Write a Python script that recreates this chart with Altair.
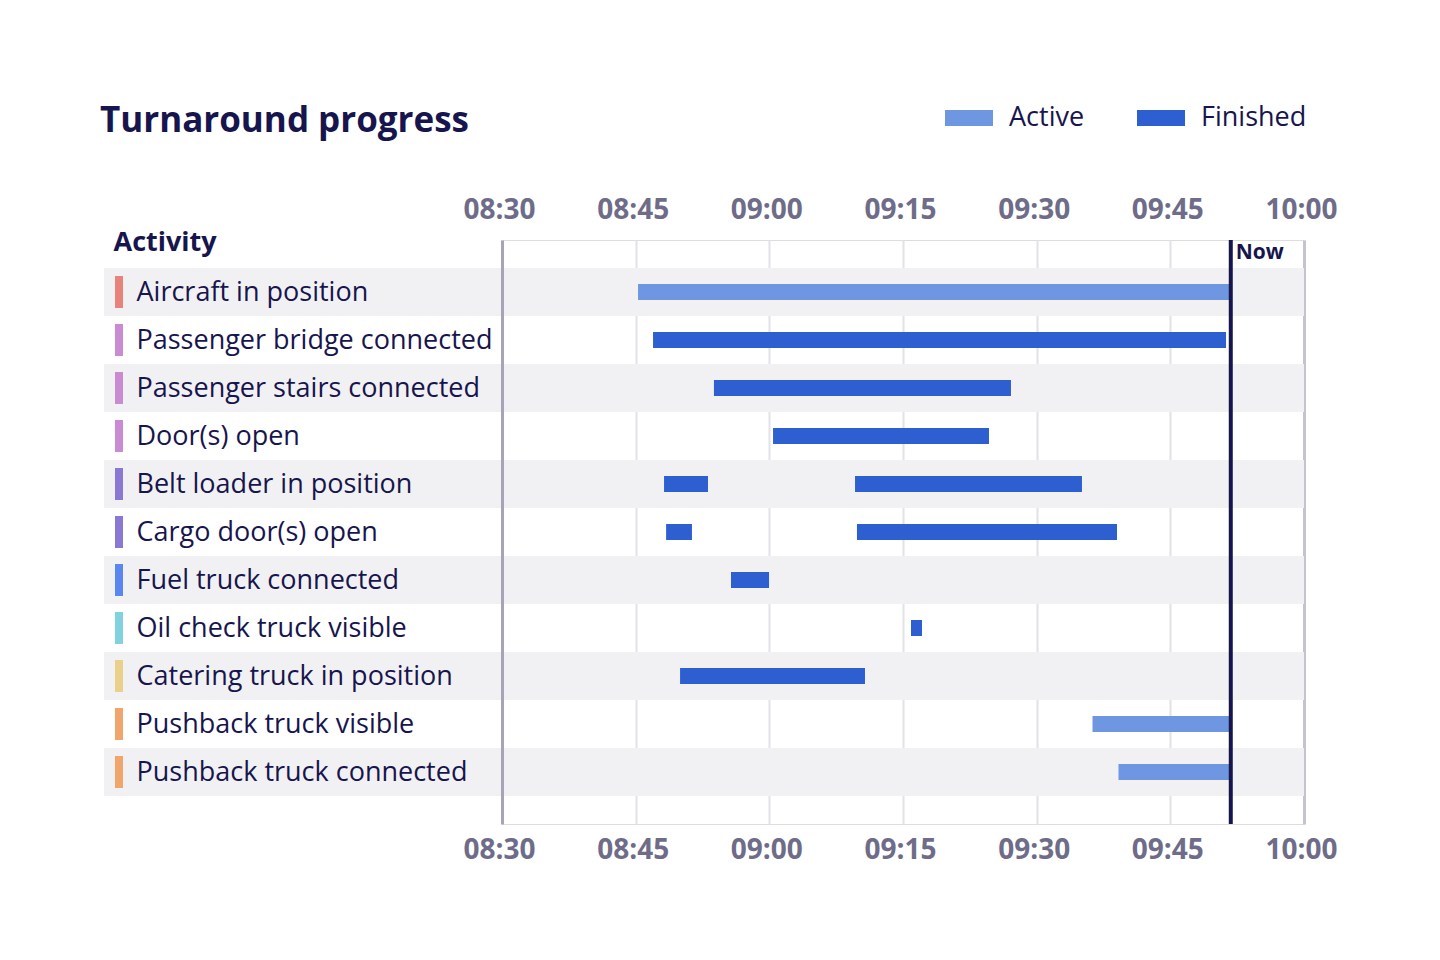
import altair as alt
import pandas as pd

# ---------------- data ----------------
activities = [
    "Aircraft in position",
    "Passenger bridge connected",
    "Passenger stairs connected",
    "Door(s) open",
    "Belt loader in position",
    "Cargo door(s) open",
    "Fuel truck connected",
    "Oil check truck visible",
    "Catering truck in position",
    "Pushback truck visible",
    "Pushback truck connected",
]

# one entry per drawn bar (an activity may have several segments)
seg_activity = [
    "Aircraft in position",
    "Passenger bridge connected",
    "Passenger stairs connected",
    "Door(s) open",
    "Belt loader in position",
    "Belt loader in position",
    "Cargo door(s) open",
    "Cargo door(s) open",
    "Fuel truck connected",
    "Oil check truck visible",
    "Catering truck in position",
    "Pushback truck visible",
    "Pushback truck connected",
]
seg_start = [
    "08:45:16", "08:46:57", "08:53:47", "09:00:25", "08:48:11", "09:09:37",
    "08:48:25", "09:09:50", "08:55:42", "09:15:54", "08:49:59", "09:36:16",
    "09:39:11",
]
seg_end = [
    "09:51:47", "09:51:15", "09:27:07", "09:24:39", "08:53:07", "09:35:05",
    "08:51:19", "09:39:01", "08:59:58", "09:17:08", "09:10:44", "09:51:47",
    "09:51:47",
]
seg_status = [
    "Active", "Finished", "Finished", "Finished", "Finished", "Finished",
    "Finished", "Finished", "Finished", "Finished", "Finished", "Active",
    "Active",
]

now_time = "09:51:47"
tick_labels = ["08:30", "08:45", "09:00", "09:15", "09:30", "09:45", "10:00"]
status_order = ["Active", "Finished"]

# ---------------- styles ----------------
marker_colors = [
    "#e8837c", "#c98bd1", "#c98bd1", "#c98bd1", "#8a78d2", "#8a78d2",
    "#5b86f0", "#82d1e0", "#ebd08c", "#f0a56c", "#f0a56c",
]
status_colors = ["#6f96e0", "#2d5fd0"]
NAVY = "#17154d"
AXIS_GREY = "#6e6c88"
BAND = "#f1f1f4"
FONT = "Open Sans"
W, H = 802, 584


def to_min(t):
    parts = [float(p) for p in t.split(":")]
    while len(parts) < 3:
        parts.append(0.0)
    return parts[0] * 60 + parts[1] + parts[2] / 60


segs = pd.DataFrame({
    "activity": seg_activity,
    "start": [to_min(t) for t in seg_start],
    "end": [to_min(t) for t in seg_end],
    "status": seg_status,
})
rows = pd.DataFrame({
    "activity": activities,
    "idx": list(range(len(activities))),
    "mcolor": marker_colors,
})
now_df = pd.DataFrame({"now": [to_min(now_time)], "label": ["Now"]})

tick_vals = [to_min(t) for t in tick_labels]
x_dom = [tick_vals[0], tick_vals[-1]]
label_expr = (
    "(floor(datum.value/60) < 10 ? '0' : '') + floor(datum.value/60) + ':' + "
    "(datum.value % 60 < 10 ? '0' : '') + (datum.value % 60)"
)

y_enc = alt.Y(
    "activity:N",
    sort=activities,
    scale=alt.Scale(domain=activities, paddingInner=0, paddingOuter=28 / 48),
    axis=alt.Axis(
        title="Activity",
        titleAngle=0,
        titleAlign="left",
        titleBaseline="alphabetic",
        titleX=-389,
        titleY=10,
        titleFont=FONT,
        titleFontSize=27,
        titleFontWeight="bold",
        titleColor=NAVY,
        labelAlign="left",
        labelBaseline="middle",
        labelPadding=366,
        labelFont=FONT,
        labelFontSize=27,
        labelColor=NAVY,
        labelLimit=0,
        labelOffset=1,
        ticks=False,
        tickSize=0,
        grid=False,
        domain=True,
        domainColor="#a6a5b8",
        domainWidth=3,
    ),
)

x_scale = alt.Scale(domain=x_dom, nice=False, zero=False)

axis_common = dict(
    values=tick_vals,
    labelExpr=label_expr,
    title=None,
    labelFont=FONT,
    labelFontSize=28,
    labelFontWeight="bold",
    labelColor=AXIS_GREY,
    labelOffset=-3,
    labelFlush=False,
    labelOverlap=False,
    labelBound=False,
    ticks=False,
    tickSize=0,
    domain=False,
)

top_axis = alt.Axis(
    orient="top",
    labelPadding=16,
    grid=True,
    gridColor=alt.condition("datum.value == 600", alt.value("#c4c3d0"), alt.value("#e2e2e8")),
    gridWidth=alt.condition("datum.value == 600", alt.value(3), alt.value(2)),
    **axis_common,
)
bottom_axis = alt.Axis(
    orient="bottom",
    labelPadding=12,
    grid=False,
    **axis_common,
)

bands = (
    alt.Chart(rows)
    .transform_filter("datum.idx % 2 == 0")
    .mark_rect(color=BAND)
    .encode(y=y_enc, x=alt.value(-398), x2=alt.value(W))
)

markers = (
    alt.Chart(rows)
    .mark_bar(size=32, orient="horizontal")
    .encode(
        y=y_enc,
        x=alt.value(-387),
        x2=alt.value(-379),
        fill=alt.Fill("mcolor:N", scale=None, legend=None),
    )
)

bars = (
    alt.Chart(segs)
    .mark_bar(size=16)
    .encode(
        y=y_enc,
        x=alt.X("start:Q", scale=x_scale, axis=top_axis),
        x2="end:Q",
        color=alt.Color(
            "status:N",
            scale=alt.Scale(domain=status_order, range=status_colors),
            legend=alt.Legend(
                title=None,
                orient="none",
                direction="horizontal",
                legendX=443,
                legendY=-146,
                padding=0,
                symbolType="M-1,-0.3333H1V0.3333H-1Z",
                symbolSize=2304,
                symbolStrokeWidth=0,
                labelFont=FONT,
                labelFontSize=27,
                labelColor=NAVY,
                labelOffset=16,
                columnPadding=52,
                labelLimit=0,
            ),
        ),
    )
)

now_rule = (
    alt.Chart(now_df)
    .mark_rule(color=NAVY, strokeWidth=4)
    .encode(x=alt.X("now:Q", scale=x_scale, axis=bottom_axis))
)

now_text = (
    alt.Chart(now_df)
    .mark_text(
        align="left",
        baseline="middle",
        dx=5,
        font=FONT,
        fontSize=21,
        fontWeight="bold",
        color=NAVY,
    )
    .encode(x=alt.X("now:Q", scale=x_scale, axis=None), y=alt.value(13), text="label:N")
)

chart = (
    alt.layer(bands, markers, bars, now_rule, now_text)
    .resolve_axis(x="independent")
    .resolve_scale(color="independent", fill="independent")
    .properties(
        width=W,
        height=H,
        autosize=alt.AutoSizeParams(type="none"),
        padding={"left": 494, "top": 232, "right": 120, "bottom": 100},
        title=alt.TitleParams(
            text="Turnaround progress",
            anchor="start",
            frame="group",
            dx=-402,
            dy=49,
            font=FONT,
            fontSize=35,
            fontWeight="bold",
            color=NAVY,
        ),
    )
    .configure_view(stroke=None)
    .configure(background="white")
)

chart.save("out.html", embed_options={"renderer": "svg", "actions": False})
